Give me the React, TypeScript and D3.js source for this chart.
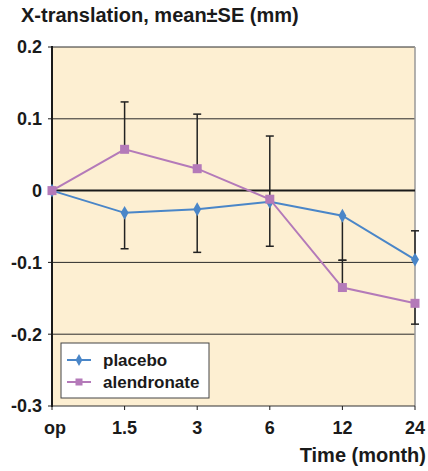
import React, { useEffect, useRef } from 'react';
import * as d3 from 'd3';

const categories = ['op', '1.5', '3', '6', '12', '24'];
const placebo = [0, -0.031, -0.026, -0.0155, -0.035, -0.096];
const alendronate = [0, 0.0575, 0.0305, -0.012, -0.135, -0.157];
// signed one-sided SE bars (negative = drawn downward)
const placeboSE = [0, -0.05, -0.06, -0.062, -0.062, 0.04];
const alendronateSE = [0, 0.066, 0.076, 0.088, 0.038, -0.029];
const yTicks = [0.2, 0.1, 0, -0.1, -0.2, -0.3];
const yTickLabels = ['0.2', '0.1', '0', '-0.1', '-0.2', '-0.3'];

const FONT = '"Liberation Sans", Arial, sans-serif';
const INK = '#1a1a1a';

const App = () => {
  const svgRef = useRef<SVGSVGElement>(null);

  useEffect(() => {
    const svg = d3.select(svgRef.current);
    svg.selectAll('*').remove();

    const left = 52, right = 415, top = 47, bottom = 406;

    const x = d3.scalePoint<string>().domain(categories).range([left, right]);
    const y = d3.scaleLinear().domain([-0.3, 0.2]).range([bottom, top]);

    // title
    svg.append('text')
      .attr('x', 21).attr('y', 22)
      .attr('font-family', FONT).attr('font-size', 20).attr('font-weight', 'bold')
      .attr('fill', INK)
      .text('X-translation, mean±SE (mm)');

    // plot background
    svg.append('rect')
      .attr('x', left).attr('y', top)
      .attr('width', right - left).attr('height', bottom - top)
      .attr('fill', '#fdefd2');

    // grid lines
    svg.selectAll('.grid')
      .data(yTicks.filter(t => t !== 0 && t !== -0.3))
      .enter().append('line')
      .attr('x1', left).attr('x2', right)
      .attr('y1', d => y(d)).attr('y2', d => y(d))
      .attr('stroke', '#2a2a2a').attr('stroke-width', 1);

    // right border
    svg.append('line')
      .attr('x1', right).attr('x2', right).attr('y1', top).attr('y2', bottom)
      .attr('stroke', '#999').attr('stroke-width', 1.5);

    // bottom border
    svg.append('line')
      .attr('x1', left).attr('x2', right).attr('y1', bottom).attr('y2', bottom)
      .attr('stroke', '#333').attr('stroke-width', 1.2);

    // zero line
    svg.append('line')
      .attr('x1', left).attr('x2', right).attr('y1', y(0)).attr('y2', y(0))
      .attr('stroke', INK).attr('stroke-width', 2);

    // left axis
    svg.append('line')
      .attr('x1', left).attr('x2', left).attr('y1', top - 1).attr('y2', bottom + 1)
      .attr('stroke', INK).attr('stroke-width', 2);

    // y ticks + labels
    yTicks.forEach((t, i) => {
      svg.append('line')
        .attr('x1', left - 4).attr('x2', left).attr('y1', y(t)).attr('y2', y(t))
        .attr('stroke', INK).attr('stroke-width', 1);
      svg.append('text')
        .attr('x', 42).attr('y', y(t)).attr('dy', '0.36em')
        .attr('text-anchor', 'end')
        .attr('font-family', FONT).attr('font-size', 18).attr('font-weight', 'bold')
        .attr('fill', INK)
        .text(yTickLabels[i]);
    });

    // x ticks + labels
    categories.forEach(c => {
      svg.append('line')
        .attr('x1', x(c)!).attr('x2', x(c)!).attr('y1', bottom).attr('y2', bottom + 4)
        .attr('stroke', INK).attr('stroke-width', 1);
      svg.append('text')
        .attr('x', x(c)! + (c === 'op' ? 3 : 0)).attr('y', 434)
        .attr('text-anchor', 'middle')
        .attr('font-family', FONT).attr('font-size', 18).attr('font-weight', 'bold')
        .attr('fill', INK)
        .text(c);
    });

    svg.append('text')
      .attr('x', 426).attr('y', 462)
      .attr('text-anchor', 'end')
      .attr('font-family', FONT).attr('font-size', 20).attr('font-weight', 'bold')
      .attr('fill', INK)
      .text('Time (month)');

    // error bars
    const drawErr = (vals: number[], se: number[]) => {
      vals.forEach((v, i) => {
        if (se[i] === 0) return;
        const cx = x(categories[i])!;
        const end = v + se[i];
        svg.append('line')
          .attr('x1', cx).attr('x2', cx).attr('y1', y(v)).attr('y2', y(end))
          .attr('stroke', '#222').attr('stroke-width', 1.5);
        svg.append('line')
          .attr('x1', cx - 4).attr('x2', cx + 4).attr('y1', y(end)).attr('y2', y(end))
          .attr('stroke', '#222').attr('stroke-width', 1.5);
      });
    };
    drawErr(placebo, placeboSE);
    drawErr(alendronate, alendronateSE);

    const line = d3.line<number>()
      .x((_, i) => x(categories[i])!)
      .y(d => y(d));

    const blue = '#4a86c8';
    const purple = '#b47ab9';

    svg.append('path').datum(placebo)
      .attr('d', line).attr('fill', 'none').attr('stroke', blue).attr('stroke-width', 2);
    svg.append('path').datum(alendronate)
      .attr('d', line).attr('fill', 'none').attr('stroke', purple).attr('stroke-width', 2);

    const diamond = d3.symbol().type(d3.symbolDiamond).size(55);
    svg.selectAll('.pm').data(placebo).enter().append('path')
      .attr('d', diamond)
      .attr('transform', (d, i) => `translate(${x(categories[i])},${y(d)})`)
      .attr('fill', blue);

    svg.selectAll('.am').data(alendronate).enter().append('rect')
      .attr('x', (_, i) => x(categories[i])! - 4.5)
      .attr('y', d => y(d) - 4.5)
      .attr('width', 9).attr('height', 9)
      .attr('fill', purple);

    // legend
    const lg = svg.append('g');
    lg.append('rect')
      .attr('x', 61).attr('y', 343).attr('width', 148).attr('height', 55)
      .attr('fill', '#fff').attr('stroke', '#444').attr('stroke-width', 1);
    const items = [
      { name: 'placebo', color: blue, shape: 'diamond' },
      { name: 'alendronate', color: purple, shape: 'square' },
    ];
    items.forEach((it, i) => {
      const yy = 360 + i * 22;
      lg.append('line')
        .attr('x1', 67).attr('x2', 91).attr('y1', yy).attr('y2', yy)
        .attr('stroke', it.color).attr('stroke-width', 2);
      if (it.shape === 'diamond') {
        lg.append('path').attr('d', d3.symbol().type(d3.symbolDiamond).size(40))
          .attr('transform', `translate(79,${yy})`).attr('fill', it.color);
      } else {
        lg.append('rect').attr('x', 75.5).attr('y', yy - 3.5).attr('width', 7).attr('height', 7)
          .attr('fill', it.color);
      }
      lg.append('text')
        .attr('x', 103).attr('y', yy).attr('dy', '0.36em')
        .attr('font-family', FONT).attr('font-size', 17).attr('font-weight', 'bold')
        .attr('fill', INK)
        .text(it.name);
    });
  }, []);

  return (
    <svg
      ref={svgRef}
      width={428}
      height={471}
      style={{ position: 'absolute', left: 0, top: 0, background: '#fff' }}
    />
  );
};

export default App;
